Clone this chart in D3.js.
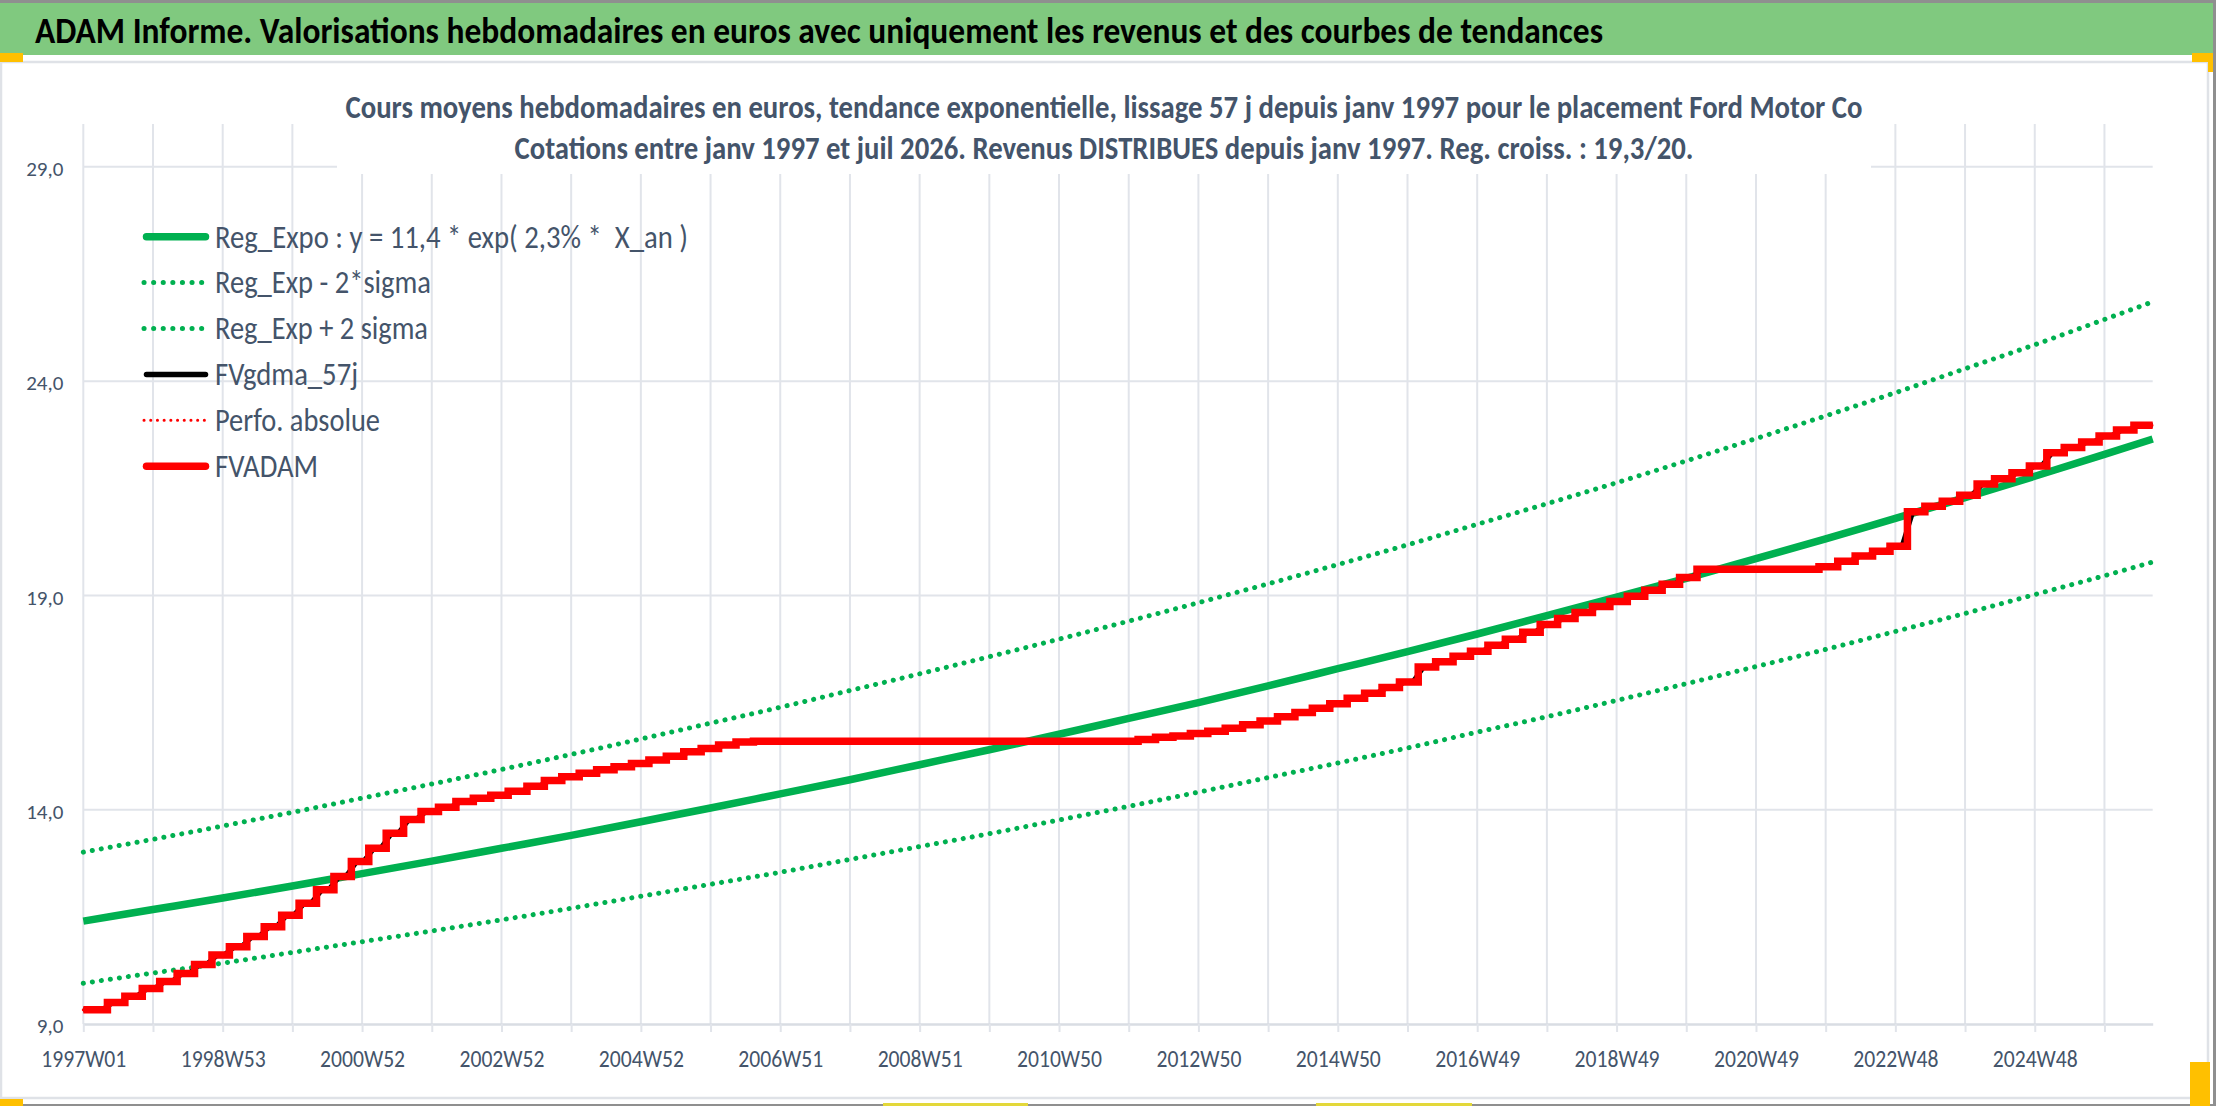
<!DOCTYPE html>
<html>
<head>
<meta charset="utf-8">
<script src="https://cdn.jsdelivr.net/npm/d3@7"></script>
<style>
  html, body { margin: 0; padding: 0; background: #fff; overflow: hidden; }
  text { font-family: Carlito, "Open Sans", sans-serif; white-space: pre; }
</style>
</head>
<body>
<script>
// données
const headerTitle = "ADAM Informe. Valorisations hebdomadaires en euros avec uniquement les revenus et des courbes de tendances";
const subTitles = [
  "Cours moyens hebdomadaires en euros, tendance exponentielle, lissage 57 j depuis janv 1997 pour le placement Ford Motor Co",
  "Cotations entre janv 1997 et juil 2026. Revenus DISTRIBUES depuis janv 1997. Reg. croiss. : 19,3/20."
];
const tickLabels = ["1997W01", "1998W53", "2000W52", "2002W52", "2004W52", "2006W51", "2008W51",
  "2010W50", "2012W50", "2014W50", "2016W49", "2018W49", "2020W49", "2022W48", "2024W48"];
const nWeeks = 1545;
const yTicks = [9, 14, 19, 24, 29];
const legendNames = ["Reg_Expo : y = 11,4 * exp( 2,3% *  X_an )", "Reg_Exp - 2*sigma", "Reg_Exp + 2 sigma",
  "FVgdma_57j", "Perfo. absolue", "FVADAM"];

// courbes de tendance, une valeur par an (toutes les 52 semaines) + la dernière semaine
const regWeeks = d3.range(0, 1509, 52).concat([1544]);
const regExpo = [11.40, 11.67, 11.94, 12.22, 12.51, 12.80, 13.10, 13.40, 13.72, 14.04, 14.37, 14.70, 15.05, 15.40, 15.76,
  16.13, 16.50, 16.89, 17.29, 17.69, 18.10, 18.53, 18.96, 19.40, 19.86, 20.32, 20.80, 21.28, 21.78, 22.29, 22.65];
const regLow = [9.95, 10.19, 10.42, 10.67, 10.92, 11.17, 11.43, 11.70, 11.98, 12.26, 12.54, 12.84, 13.14, 13.44, 13.76,
  14.08, 14.41, 14.75, 15.09, 15.44, 15.81, 16.17, 16.55, 16.94, 17.34, 17.74, 18.16, 18.58, 19.02, 19.46, 19.78];
const regHigh = [13.01, 13.31, 13.62, 13.94, 14.27, 14.60, 14.94, 15.29, 15.65, 16.02, 16.39, 16.78, 17.17, 17.57, 17.98,
  18.40, 18.83, 19.27, 19.72, 20.18, 20.66, 21.14, 21.63, 22.14, 22.66, 23.19, 23.73, 24.29, 24.85, 25.44, 25.85];

// FVADAM : un palier par trimestre (versement du dividende)
const fvadam = [
  9.33, 9.50, 9.65, 9.83, 9.99, 10.18, 10.39, 10.61, 10.80, 11.04,
  11.27, 11.54, 11.82, 12.13, 12.44, 12.79, 13.10, 13.45, 13.77, 13.96,
  14.06, 14.19, 14.27, 14.34, 14.43, 14.55, 14.68, 14.77, 14.85, 14.93,
  15.00, 15.08, 15.16, 15.25, 15.35, 15.43, 15.51, 15.58, 15.60, 15.60,
  15.60, 15.60, 15.60, 15.60, 15.60, 15.60, 15.60, 15.60, 15.60, 15.60,
  15.60, 15.60, 15.60, 15.60, 15.60, 15.60, 15.60, 15.60, 15.60, 15.60,
  15.64, 15.69, 15.72, 15.78, 15.83, 15.90, 15.98, 16.07, 16.17, 16.27,
  16.37, 16.47, 16.60, 16.72, 16.85, 16.98, 17.33, 17.45, 17.58, 17.70,
  17.84, 17.98, 18.14, 18.32, 18.46, 18.60, 18.74, 18.86, 18.98, 19.12,
  19.26, 19.42, 19.61, 19.61, 19.61, 19.61, 19.61, 19.61, 19.61, 19.67,
  19.80, 19.92, 20.03, 20.15, 20.95, 21.08, 21.20, 21.34, 21.60, 21.72,
  21.86, 22.02, 22.33, 22.45, 22.58, 22.72, 22.86, 22.97
];

// mise en page
const width = 2216;
const height = 1106;
const textColor = "#44546a";
const gridColor = "#e1e4ea";
const green = "#00b050";
const red = "#ff0000";

const svg = d3.select("body")
  .append("svg")
  .attr("width", width)
  .attr("height", height);

// cadre et bandeau
svg.append("rect").attr("x", 0).attr("y", 0).attr("width", width).attr("height", height).attr("fill", "#fff");
svg.append("rect").attr("x", 0).attr("y", 0).attr("width", width).attr("height", 3).attr("fill", "#8f8f8f");
svg.append("rect").attr("x", 0).attr("y", 3).attr("width", 2213).attr("height", 52).attr("fill", "#80c97f");
svg.append("rect").attr("x", 1).attr("y", 62).attr("width", 2207).attr("height", 1036)
  .attr("fill", "#fff").attr("stroke", "#dfe2e7").attr("stroke-width", 2.5);
svg.append("rect").attr("x", 2213).attr("y", 0).attr("width", 3).attr("height", height).attr("fill", "#8f8f8f");
svg.append("rect").attr("x", 0).attr("y", 1104).attr("width", width).attr("height", 2).attr("fill", "#8f8f8f");

const handles = [[0, 53, 23, 9], [2192, 53, 21, 9], [2208, 62, 5, 10], [0, 1099, 23, 7], [2190, 1062, 20, 44]];
svg.selectAll(".handle")
  .data(handles)
  .enter()
  .append("rect")
  .attr("x", d => d[0]).attr("y", d => d[1]).attr("width", d => d[2]).attr("height", d => d[3])
  .attr("fill", "#ffc000");
svg.selectAll(".mark")
  .data([[883, 145], [1316, 156]])
  .enter()
  .append("rect")
  .attr("x", d => d[0]).attr("y", 1103).attr("width", d => d[1]).attr("height", 3)
  .attr("fill", "#e3d83a");

svg.append("text")
  .attr("x", 35).attr("y", 43)
  .attr("font-size", 37).attr("font-weight", "bold").attr("fill", "#000")
  .attr("textLength", 1568).attr("lengthAdjust", "spacingAndGlyphs")
  .text(headerTitle);

// échelles
const x = d3.scaleLinear().domain([0, nWeeks - 1]).range([83.3, 2152.7]);
const y = d3.scaleLinear().domain([9, 30]).range([1024, 124]);

// quadrillage
const gridWeeks = d3.range(0, nWeeks, 52);
svg.selectAll(".vgrid")
  .data(gridWeeks)
  .enter()
  .append("line")
  .attr("x1", d => x(d)).attr("x2", d => x(d))
  .attr("y1", y(30)).attr("y2", y(9))
  .style("stroke", gridColor).style("stroke-width", 2);

svg.selectAll(".hgrid")
  .data(yTicks.slice(1))
  .enter()
  .append("line")
  .attr("x1", x(0)).attr("x2", x(nWeeks - 1))
  .attr("y1", d => y(d)).attr("y2", d => y(d))
  .style("stroke", gridColor).style("stroke-width", 2);

// axe des abscisses
const xAxis = svg.append("g")
  .attr("transform", `translate(0, ${y(9)})`)
  .call(d3.axisBottom(x)
    .tickValues(gridWeeks)
    .tickSize(8)
    .tickSizeOuter(0)
    .tickPadding(19)
    .tickFormat(d => d % 104 === 0 ? tickLabels[d / 104] : ""));
xAxis.select(".domain").style("stroke", "#d9dde3").style("stroke-width", 2.5);
xAxis.selectAll(".tick line").style("stroke", gridColor).style("stroke-width", 2);
xAxis.selectAll(".tick text")
  .attr("fill", textColor)
  .attr("font-size", 24)
  .attr("dy", "0.66em")
  .style("font-family", 'Carlito, "Open Sans", sans-serif')
  .each(function () {
    if (this.textContent) d3.select(this).attr("textLength", 85).attr("lengthAdjust", "spacingAndGlyphs");
  });

// axe des ordonnées
const yAxis = svg.append("g")
  .attr("transform", `translate(${x(0)}, 0)`)
  .call(d3.axisLeft(y)
    .tickValues(yTicks)
    .tickSize(0)
    .tickPadding(20)
    .tickFormat(d => d.toFixed(1).replace(".", ",")));
yAxis.select(".domain").remove();
yAxis.selectAll(".tick text")
  .attr("fill", textColor)
  .attr("font-size", 21)
  .attr("dy", "0.42em")
  .style("font-family", 'Carlito, "Open Sans", sans-serif');

// titre du graphique (fond blanc qui masque le quadrillage)
svg.append("rect").attr("x", 337).attr("y", 66).attr("width", 1534).attr("height", 108).attr("fill", "#fff");
const subLengths = [1517, 1179];
const subBaselines = [118, 159];
svg.selectAll(".subtitle")
  .data(subTitles)
  .enter()
  .append("text")
  .attr("x", 1104)
  .attr("y", (d, i) => subBaselines[i])
  .attr("text-anchor", "middle")
  .attr("font-size", 32).attr("font-weight", "bold").attr("fill", textColor)
  .attr("textLength", (d, i) => subLengths[i]).attr("lengthAdjust", "spacingAndGlyphs")
  .text(d => d);

// séries
const regData = regWeeks.map((w, i) => ({ w, expo: regExpo[i], low: regLow[i], high: regHigh[i] }));
const stepWeek = k => k === 0 ? 0 : Math.round(4.5 + 13.04 * k);
const stepData = fvadam.map((v, k) => ({ w: stepWeek(k), v }));
stepData.push({ w: nWeeks - 1, v: fvadam[fvadam.length - 1] });

// moyenne glissante : rampe de 8 semaines autour de chaque palier
const smoothData = [{ w: 0, v: fvadam[0] }];
fvadam.forEach((v, k) => {
  if (k > 0) {
    smoothData.push({ w: stepWeek(k) - 4, v: fvadam[k - 1] });
    smoothData.push({ w: stepWeek(k) + 4, v });
  }
});
smoothData.push({ w: nWeeks - 1, v: fvadam[fvadam.length - 1] });

const regLine = key => d3.line().x(d => x(d.w)).y(d => y(d[key])).curve(d3.curveMonotoneX);
const stepLine = d3.line().x(d => x(d.w)).y(d => y(d.v)).curve(d3.curveStepAfter);
const smoothLine = d3.line().x(d => x(d.w)).y(d => y(d.v));

svg.append("path").datum(regData).attr("d", regLine("expo"))
  .attr("fill", "none").style("stroke", green).style("stroke-width", 7.5);
svg.append("path").datum(regData).attr("d", regLine("low"))
  .attr("fill", "none").style("stroke", green).style("stroke-width", 5)
  .style("stroke-dasharray", "0.1 9").style("stroke-linecap", "round");
svg.append("path").datum(regData).attr("d", regLine("high"))
  .attr("fill", "none").style("stroke", green).style("stroke-width", 5)
  .style("stroke-dasharray", "0.1 9").style("stroke-linecap", "round");
svg.append("path").datum(smoothData).attr("d", smoothLine)
  .attr("fill", "none").style("stroke", "#000").style("stroke-width", 5);
svg.append("path").datum(stepData).attr("d", stepLine)
  .attr("fill", "none").style("stroke", red).style("stroke-width", 3)
  .style("stroke-dasharray", "0.1 6.5").style("stroke-linecap", "round");
svg.append("path").datum(stepData).attr("d", stepLine)
  .attr("fill", "none").style("stroke", red).style("stroke-width", 7.5);

// légende
const legendStyles = [
  { color: green, width: 7.5, dash: null },
  { color: green, width: 5, dash: "0.1 9.5" },
  { color: green, width: 5, dash: "0.1 9.5" },
  { color: "#000", width: 5.5, dash: null },
  { color: red, width: 3, dash: "0.1 6.6" },
  { color: red, width: 7.5, dash: null }
];
const legendTextLengths = [473, 216, 213, 143, 165, 103];

const legend = svg.selectAll(".legend")
  .data(legendNames)
  .enter()
  .append("g")
  .attr("transform", (d, i) => `translate(0, ${236.7 + i * 45.9})`);

legend.append("line")
  .attr("x1", (d, i) => legendStyles[i].dash ? 144 : 146.5)
  .attr("x2", (d, i) => legendStyles[i].dash ? 206 : 205.5)
  .attr("y1", 0).attr("y2", 0)
  .style("stroke", (d, i) => legendStyles[i].color)
  .style("stroke-width", (d, i) => legendStyles[i].width)
  .style("stroke-linecap", "round")
  .style("stroke-dasharray", (d, i) => legendStyles[i].dash);

legend.append("text")
  .attr("x", 215).attr("y", 10.8)
  .attr("font-size", 33).attr("fill", textColor)
  .attr("textLength", (d, i) => legendTextLengths[i]).attr("lengthAdjust", "spacingAndGlyphs")
  .text(d => d);
</script>
</body>
</html>
